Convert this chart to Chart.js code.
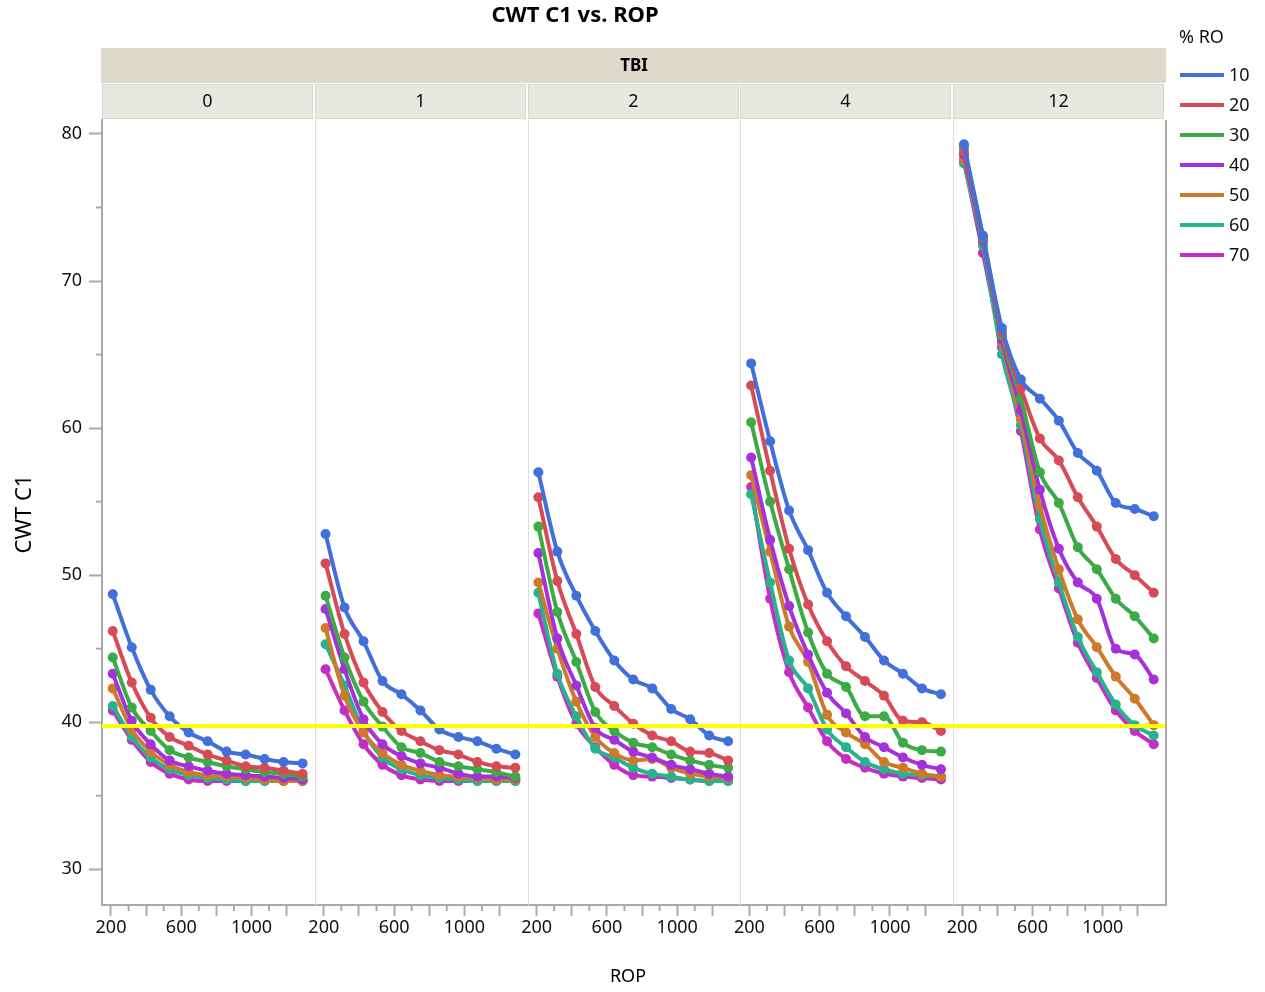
<!DOCTYPE html>
<html>
<head>
<meta charset="utf-8">
<script src="https://cdn.jsdelivr.net/npm/chart.js@4"></script>
<style>
  body { margin: 0; background: #fff; }
  canvas { display: block; }
</style>
</head>
<body>
<canvas id="chart" width="1265" height="992"></canvas>
<script>
// Facets (TBI) and groups (% RO)
const TBI = ["0", "1", "2", "4", "12"];
const RO_LEVELS = ["10", "20", "30", "40", "50", "60", "70"];
const ROP = [210, 318, 426, 534, 642, 750, 858, 966, 1074, 1182, 1290];

const X_MAJOR_TICKS = [200, 400, 600, 800, 1000, 1200];
const X_TICK_LABELS = ["200", "", "600", "", "1000", ""];
const X_MINOR_TICKS = [300, 500, 700, 900, 1100];
const Y_MAJOR_TICKS = [30, 40, 50, 60, 70, 80];
const Y_MINOR_TICKS = [35, 45, 55, 65, 75];
const REF_LINE = 39.75;

// CWT C1 per % RO, one row per TBI panel
const RO10 = [
  [48.7, 45.1, 42.2, 40.4, 39.3, 38.7, 38.0, 37.8, 37.5, 37.3, 37.2],
  [52.8, 47.8, 45.5, 42.8, 41.9, 40.8, 39.5, 39.0, 38.7, 38.2, 37.8],
  [57.0, 51.6, 48.6, 46.2, 44.2, 42.9, 42.3, 40.9, 40.2, 39.1, 38.7],
  [64.4, 59.1, 54.4, 51.7, 48.8, 47.2, 45.8, 44.2, 43.3, 42.3, 41.9],
  [79.3, 73.1, 66.8, 63.3, 62.0, 60.5, 58.3, 57.1, 54.9, 54.5, 54.0],
];
const RO20 = [
  [46.2, 42.7, 40.3, 39.0, 38.4, 37.8, 37.4, 37.0, 36.9, 36.7, 36.5],
  [50.8, 46.0, 42.7, 40.7, 39.4, 38.7, 38.1, 37.8, 37.3, 37.0, 36.9],
  [55.3, 49.6, 46.0, 42.4, 41.1, 39.9, 39.1, 38.7, 38.0, 37.9, 37.4],
  [62.9, 57.1, 51.8, 48.0, 45.5, 43.8, 42.8, 41.8, 40.1, 40.0, 39.4],
  [78.8, 73.0, 66.5, 62.7, 59.3, 57.8, 55.3, 53.3, 51.1, 50.0, 48.8],
];
const RO30 = [
  [44.4, 41.0, 39.4, 38.1, 37.6, 37.3, 37.0, 36.8, 36.6, 36.5, 36.3],
  [48.6, 44.4, 41.4, 39.7, 38.3, 37.9, 37.3, 37.0, 36.8, 36.6, 36.3],
  [53.3, 47.5, 44.1, 40.7, 39.4, 38.6, 38.3, 37.8, 37.4, 37.1, 36.9],
  [60.4, 55.0, 50.4, 46.1, 43.3, 42.4, 40.4, 40.4, 38.6, 38.1, 38.0],
  [79.1, 72.9, 66.3, 62.0, 57.0, 54.9, 51.9, 50.4, 48.4, 47.2, 45.7],
];
const RO40 = [
  [43.3, 40.1, 38.5, 37.4, 37.0, 36.7, 36.5, 36.4, 36.3, 36.2, 36.1],
  [47.7, 43.6, 40.2, 38.5, 37.7, 37.2, 36.9, 36.5, 36.3, 36.3, 36.2],
  [51.5, 45.7, 42.5, 39.6, 38.8, 38.0, 37.6, 37.1, 36.8, 36.5, 36.3],
  [58.0, 52.4, 47.9, 44.6, 42.0, 40.6, 39.0, 38.3, 37.6, 37.1, 36.8],
  [78.6, 72.7, 66.0, 61.2, 55.8, 51.8, 49.5, 48.4, 45.0, 44.6, 42.9],
];
const RO50 = [
  [42.3, 39.5, 38.0, 37.1, 36.6, 36.4, 36.3, 36.2, 36.1, 36.0, 36.0],
  [46.4, 41.8, 39.3, 37.9, 37.1, 36.7, 36.4, 36.3, 36.2, 36.1, 36.1],
  [49.5, 45.0, 41.4, 39.0, 37.9, 37.4, 37.5, 36.9, 36.5, 36.3, 36.2],
  [56.8, 51.6, 46.5, 44.1, 40.5, 39.3, 38.5, 37.3, 36.9, 36.5, 36.3],
  [78.3, 73.0, 65.8, 60.6, 54.7, 50.4, 47.0, 45.1, 43.1, 41.6, 39.8],
];
const RO60 = [
  [41.1, 39.0, 37.6, 36.8, 36.4, 36.2, 36.1, 36.0, 36.0, 36.0, 36.0],
  [45.3, 42.5, 39.4, 37.6, 36.8, 36.4, 36.2, 36.1, 36.0, 36.0, 36.0],
  [48.8, 43.3, 40.4, 38.2, 37.6, 36.9, 36.5, 36.3, 36.1, 36.0, 36.0],
  [55.5, 49.5, 44.2, 42.3, 39.5, 38.3, 37.3, 36.8, 36.5, 36.4, 36.3],
  [78.0, 72.4, 65.0, 60.2, 53.8, 49.5, 45.8, 43.4, 41.2, 39.8, 39.1],
];
const RO70 = [
  [40.8, 38.8, 37.3, 36.5, 36.1, 36.0, 36.0, 36.0, 36.0, 36.0, 36.0],
  [43.6, 40.8, 38.5, 37.1, 36.4, 36.1, 36.0, 36.0, 36.0, 36.0, 36.0],
  [47.4, 43.1, 39.9, 38.3, 37.1, 36.4, 36.3, 36.2, 36.1, 36.0, 36.0],
  [56.0, 48.4, 43.4, 41.0, 38.7, 37.5, 36.9, 36.5, 36.3, 36.2, 36.1],
  [78.2, 71.9, 65.5, 59.8, 53.1, 49.1, 45.4, 43.0, 40.8, 39.4, 38.5],
];
const RO_SERIES = [RO10, RO20, RO30, RO40, RO50, RO60, RO70];
const COLORS = ["#4170DA", "#D64B56", "#3CAB46", "#A431D9", "#CE7A2A", "#27B38D", "#C42EC5"];

// Each facet is a slice of one linear x scale
const SPAN = 1211;
const PANEL_MIN = 148.8;
const toX = (k, rop) => k * SPAN + rop - PANEL_MIN;

const FONT = "'Noto Sans', 'Open Sans', sans-serif";

const datasets = RO_SERIES.map((series, j) => {
  const data = [];
  series.forEach((row, k) => {
    row.forEach((v, i) => data.push({ x: toX(k, ROP[i]), y: v }));
    if (k < series.length - 1) data.push({ x: toX(k, 1340), y: null });
  });
  return {
    label: RO_LEVELS[j],
    data,
    borderColor: COLORS[j],
    backgroundColor: COLORS[j],
    borderWidth: 4,
    pointRadius: 5,
    pointBorderWidth: 0,
    pointHoverRadius: 5,
    cubicInterpolationMode: "monotone",
    spanGaps: false,
  };
});

const xTickLabels = [];
const xTicks = [];
TBI.forEach((_, k) => {
  X_MAJOR_TICKS.forEach((t, i) => {
    xTicks.push({ value: toX(k, t) });
    xTickLabels.push(X_TICK_LABELS[i]);
  });
});

const facetPlugin = {
  id: "facets",
  beforeDatasetsDraw(chart) {
    const { ctx, chartArea: a } = chart;
    const pw = (a.right - a.left) / TBI.length;
    ctx.save();
    ctx.strokeStyle = "#dedede";
    ctx.lineWidth = 1;
    for (let k = 1; k < TBI.length; k++) {
      const x = Math.round(a.left + k * pw) + 0.5;
      ctx.beginPath();
      ctx.moveTo(x, a.top);
      ctx.lineTo(x, a.bottom);
      ctx.stroke();
    }
    ctx.restore();
  },
  afterDatasetsDraw(chart) {
    const { ctx, chartArea: a, scales } = chart;
    const y = scales.y.getPixelForValue(REF_LINE);
    ctx.save();
    ctx.strokeStyle = "#FFFF00";
    ctx.lineWidth = 4;
    ctx.beginPath();
    ctx.moveTo(a.left, y);
    ctx.lineTo(a.right, y);
    ctx.stroke();
    ctx.restore();
  },
  afterDraw(chart) {
    const { ctx, chartArea: a, scales } = chart;
    const pw = (a.right - a.left) / TBI.length;
    ctx.save();

    // right border of the frame
    ctx.strokeStyle = "#aaaaaa";
    ctx.lineWidth = 2;
    ctx.beginPath();
    ctx.moveTo(a.right, a.top);
    ctx.lineTo(a.right, a.bottom + 1);
    ctx.stroke();

    // minor ticks
    TBI.forEach((_, k) => {
      X_MINOR_TICKS.forEach((t) => {
        const x = scales.x.getPixelForValue(toX(k, t));
        ctx.beginPath();
        ctx.moveTo(x, a.bottom);
        ctx.lineTo(x, a.bottom + 6);
        ctx.stroke();
      });
    });
    Y_MINOR_TICKS.forEach((t) => {
      const y = scales.y.getPixelForValue(t);
      ctx.beginPath();
      ctx.moveTo(a.left - 6, y);
      ctx.lineTo(a.left, y);
      ctx.stroke();
    });

    // facet strips
    ctx.fillStyle = "#DCDACB";
    ctx.fillRect(a.left - 1, 48, a.right - a.left + 1, 35);
    ctx.fillStyle = "#000";
    ctx.font = "bold 17px " + FONT;
    ctx.textAlign = "center";
    ctx.textBaseline = "middle";
    ctx.fillText("TBI", (a.left + a.right) / 2, 66);

    ctx.lineWidth = 1;
    TBI.forEach((label, k) => {
      const x0 = Math.round(a.left + k * pw);
      const w = Math.round(pw) - 2;
      ctx.fillStyle = "#E9E8E0";
      ctx.fillRect(x0, 84, w, 35);
      ctx.strokeStyle = "#D9D7C9";
      ctx.strokeRect(x0 + 0.5, 84.5, w - 1, 34);
      ctx.fillStyle = "#111";
      ctx.font = "18px " + FONT;
      ctx.fillText(label, x0 + w / 2, 102);
    });

    // titles
    ctx.fillStyle = "#000";
    ctx.font = "bold 22px " + FONT;
    ctx.fillText("CWT C1 vs. ROP", 575, 16);
    ctx.font = "18px " + FONT;
    ctx.fillText("ROP", (a.left + a.right) / 2 - 6, 977);
    ctx.save();
    ctx.translate(25, 514);
    ctx.rotate(-Math.PI / 2);
    ctx.font = "22px " + FONT;
    ctx.fillText("CWT C1", 0, 0);
    ctx.restore();

    // legend
    ctx.textAlign = "left";
    ctx.font = "18px " + FONT;
    ctx.fillStyle = "#111";
    ctx.fillText("% RO", 1179, 38);
    RO_LEVELS.forEach((label, j) => {
      const y = 75 + j * 30;
      ctx.strokeStyle = COLORS[j];
      ctx.lineWidth = 4;
      ctx.beginPath();
      ctx.moveTo(1180, y);
      ctx.lineTo(1224, y);
      ctx.stroke();
      ctx.fillStyle = "#111";
      ctx.fillText(label, 1229, y + 1);
    });

    ctx.restore();
  },
};

new Chart(document.getElementById("chart"), {
  type: "line",
  data: { datasets },
  plugins: [facetPlugin],
  options: {
    responsive: false,
    devicePixelRatio: 1,
    animation: false,
    layout: { padding: { top: 120, right: 99, left: 0, bottom: 0 } },
    plugins: {
      legend: { display: false },
      title: { display: false },
      tooltip: { enabled: false },
    },
    scales: {
      x: {
        type: "linear",
        min: 0,
        max: SPAN * TBI.length,
        afterBuildTicks: (scale) => {
          scale.ticks = xTicks.map((t) => ({ value: t.value }));
        },
        afterFit: (scale) => {
          scale.height = 87;
        },
        ticks: {
          autoSkip: false,
          maxRotation: 0,
          padding: 1,
          color: "#111",
          font: { family: FONT, size: 18 },
          callback: (value, index) => xTickLabels[index],
        },
        grid: {
          drawOnChartArea: false,
          tickLength: 11,
          tickWidth: 2,
          tickColor: "#aaaaaa",
        },
        border: { color: "#aaaaaa", width: 2 },
      },
      y: {
        type: "linear",
        min: 27.57,
        max: 80.95,
        afterBuildTicks: (scale) => {
          scale.ticks = Y_MAJOR_TICKS.map((v) => ({ value: v }));
        },
        afterFit: (scale) => {
          scale.width = 102;
        },
        ticks: {
          padding: 7,
          color: "#111",
          font: { family: FONT, size: 18 },
        },
        grid: {
          drawOnChartArea: false,
          tickLength: 13,
          tickWidth: 2,
          tickColor: "#aaaaaa",
        },
        border: { color: "#aaaaaa", width: 2 },
      },
    },
  },
});
</script>
</body>
</html>
